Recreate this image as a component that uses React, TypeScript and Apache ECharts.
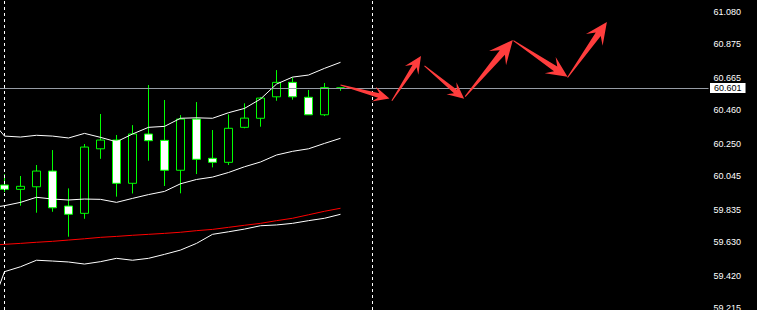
import React, { useEffect, useRef } from "react";
import * as echarts from "echarts";

// Bar slots: index 0 is the bar just before the visible window, 1..22 are visible bars, the rest is empty future space.
const categories: string[] = Array.from({ length: 46 }, (_, i) => `bar${i}`);

// [open, close, low, high]
const candles: (number[] | string)[] = [
  "-",
  [59.990, 59.963, 59.946, 60.059],
  [59.963, 59.982, 59.860, 60.047],
  [59.979, 60.078, 59.816, 60.116],
  [60.078, 59.847, 59.822, 60.210],
  [59.858, 59.806, 59.665, 59.969],
  [59.812, 60.229, 59.778, 60.248],
  [60.218, 60.273, 60.155, 60.437],
  [60.273, 60.001, 59.917, 60.305],
  [60.001, 60.311, 59.937, 60.367],
  [60.311, 60.269, 60.143, 60.619],
  [60.271, 60.083, 59.984, 60.525],
  [60.083, 60.405, 59.938, 60.430],
  [60.405, 60.152, 60.059, 60.512],
  [60.158, 60.133, 60.101, 60.336],
  [60.133, 60.347, 60.116, 60.435],
  [60.353, 60.411, 60.347, 60.504],
  [60.410, 60.537, 60.357, 60.544],
  [60.545, 60.636, 60.520, 60.713],
  [60.636, 60.545, 60.527, 60.667],
  [60.542, 60.432, 60.432, 60.588],
  [60.432, 60.603, 60.424, 60.632],
  [60.601, 60.601, 60.583, 60.601],
];

const upperBand: number[] = [
  60.418, 60.298, 60.292, 60.303, 60.298, 60.286, 60.315, 60.290, 60.262, 60.311, 60.353, 60.359,
  60.410, 60.413, 60.410, 60.445, 60.472, 60.531, 60.625, 60.669, 60.682, 60.724, 60.762,
];

const middleBand: number[] = [
  59.845, 59.860, 59.881, 59.913, 59.902, 59.896, 59.902, 59.900, 59.881, 59.906, 59.930, 59.950,
  59.998, 60.025, 60.040, 60.069, 60.105, 60.135, 60.179, 60.202, 60.218, 60.252, 60.284,
];

const lowerBand: number[] = [
  59.172, 59.445, 59.476, 59.517, 59.512, 59.506, 59.493, 59.508, 59.529, 59.517, 59.529, 59.554,
  59.581, 59.623, 59.680, 59.696, 59.713, 59.734, 59.739, 59.749, 59.766, 59.781, 59.806,
];

const slowMA: number[] = [
  59.610, 59.617, 59.623, 59.630, 59.636, 59.644, 59.652, 59.661, 59.667, 59.674, 59.680, 59.686,
  59.693, 59.703, 59.711, 59.724, 59.737, 59.749, 59.766, 59.781, 59.803, 59.825, 59.844,
];

const priceTicks: number[] = [59.215, 59.42, 59.63, 59.835, 60.045, 60.25, 60.46, 60.665, 60.875, 61.08];

const currentPrice = 60.601;

// period separators (bar slot names)
const separators: string[] = ["bar1", "bar24"];

// forecast arrows: [fromSlot, fromPrice, toSlot, toPrice]
const forecastArrows: number[][] = [
  [22.0, 60.619, 25.06, 60.535],
  [25.21, 60.52, 27.03, 60.801],
  [27.25, 60.739, 29.73, 60.533],
  [29.79, 60.546, 32.77, 60.902],
  [32.81, 60.898, 36.19, 60.671],
  [36.19, 60.667, 38.65, 61.015],
];

const FONT = "'Liberation Sans', Arial, sans-serif";

export default function App() {
  const ref = useRef<HTMLDivElement | null>(null);

  useEffect(() => {
    if (!ref.current) return;
    const chart = echarts.init(ref.current, null, { renderer: "svg" });

    const option: any = {
      animation: false,
      backgroundColor: "#000000",
      grid: {
        left: -11.5,
        top: 0,
        width: 720,
        height: 310,
        containLabel: false,
        outerBoundsMode: "none",
      },
      xAxis: [
        { type: "category", data: categories, boundaryGap: false, show: false },
        { type: "value", min: 0, max: 45, show: false, splitLine: { show: false } },
      ],
      yAxis: {
        type: "value",
        position: "right",
        min: 59.204,
        max: 61.154,
        axisLine: { show: true, lineStyle: { color: "#ffffff", width: 1 } },
        axisTick: {
          show: true,
          length: 3,
          inside: false,
          lineStyle: { color: "#ffffff" },
          customValues: priceTicks,
        },
        axisLabel: {
          color: "#ffffff",
          fontSize: 9,
          fontFamily: FONT,
          margin: 5,
          customValues: priceTicks,
          formatter: (v: number) => v.toFixed(3),
        },
        splitLine: { show: false },
      },
      series: [
        {
          type: "candlestick",
          data: candles,
          barWidth: 9,
          itemStyle: {
            color: "#000000",
            color0: "#ffffff",
            borderColor: "#00ff00",
            borderColor0: "#00ff00",
            borderWidth: 1,
          },
          markLine: {
            silent: true,
            symbol: ["none", "none"],
            animation: false,
            precision: 3,
            data: [
              ...separators.map((s) => ({
                xAxis: s,
                lineStyle: { color: "#ffffff", type: [3, 3], width: 1 },
                label: { show: false },
              })),
              {
                yAxis: currentPrice,
                lineStyle: { color: "#969ca5", type: "solid", width: 1 },
                label: {
                  show: true,
                  position: "end",
                  distance: 1.5,
                  formatter: () => currentPrice.toFixed(3),
                  backgroundColor: "#ffffff",
                  color: "#000000",
                  fontSize: 9,
                  fontFamily: FONT,
                  lineHeight: 9,
                  padding: [1, 4, 0, 4],
                },
              },
            ],
          },
          z: 2,
        },
        {
          type: "line",
          data: upperBand,
          symbol: "none",
          lineStyle: { color: "#ffffff", width: 1 },
          z: 3,
        },
        {
          type: "line",
          data: middleBand,
          symbol: "none",
          lineStyle: { color: "#ffffff", width: 1 },
          z: 3,
        },
        {
          type: "line",
          data: lowerBand,
          symbol: "none",
          lineStyle: { color: "#ffffff", width: 1 },
          z: 3,
        },
        {
          type: "line",
          data: slowMA,
          symbol: "none",
          lineStyle: { color: "#ff0000", width: 1 },
          z: 3,
        },
        {
          type: "custom",
          xAxisIndex: 1,
          yAxisIndex: 0,
          data: forecastArrows,
          encode: { x: [0, 2], y: [1, 3] },
          z: 5,
          renderItem: (_params: any, api: any) => {
            const a = api.coord([api.value(0), api.value(1)]);
            const b = api.coord([api.value(2), api.value(3)]);
            const dx = b[0] - a[0];
            const dy = b[1] - a[1];
            const L = Math.hypot(dx, dy);
            const ux = dx / L;
            const uy = dy / L;
            const nx = -uy;
            const ny = ux;
            const head = 0.32 * L;
            const hw = 0.15 * L;
            const notch = 0.22 * L;
            const sw = 0.045 * L;
            const tw = 0.5;
            const P = (t: number, s: number) => [a[0] + ux * t + nx * s, a[1] + uy * t + ny * s];
            return {
              type: "polygon",
              shape: {
                points: [
                  P(0, -tw),
                  P(L - notch, -sw),
                  P(L - head, -hw),
                  P(L, 0),
                  P(L - head, hw),
                  P(L - notch, sw),
                  P(0, tw),
                ],
              },
              style: { fill: "#ff3d3d" },
            };
          },
        },
      ],
    };

    chart.setOption(option);
    return () => {
      chart.dispose();
    };
  }, []);

  return (
    <div
      ref={ref}
      style={{ position: "fixed", left: 0, top: 0, width: 757, height: 310, background: "#000" }}
    />
  );
}
